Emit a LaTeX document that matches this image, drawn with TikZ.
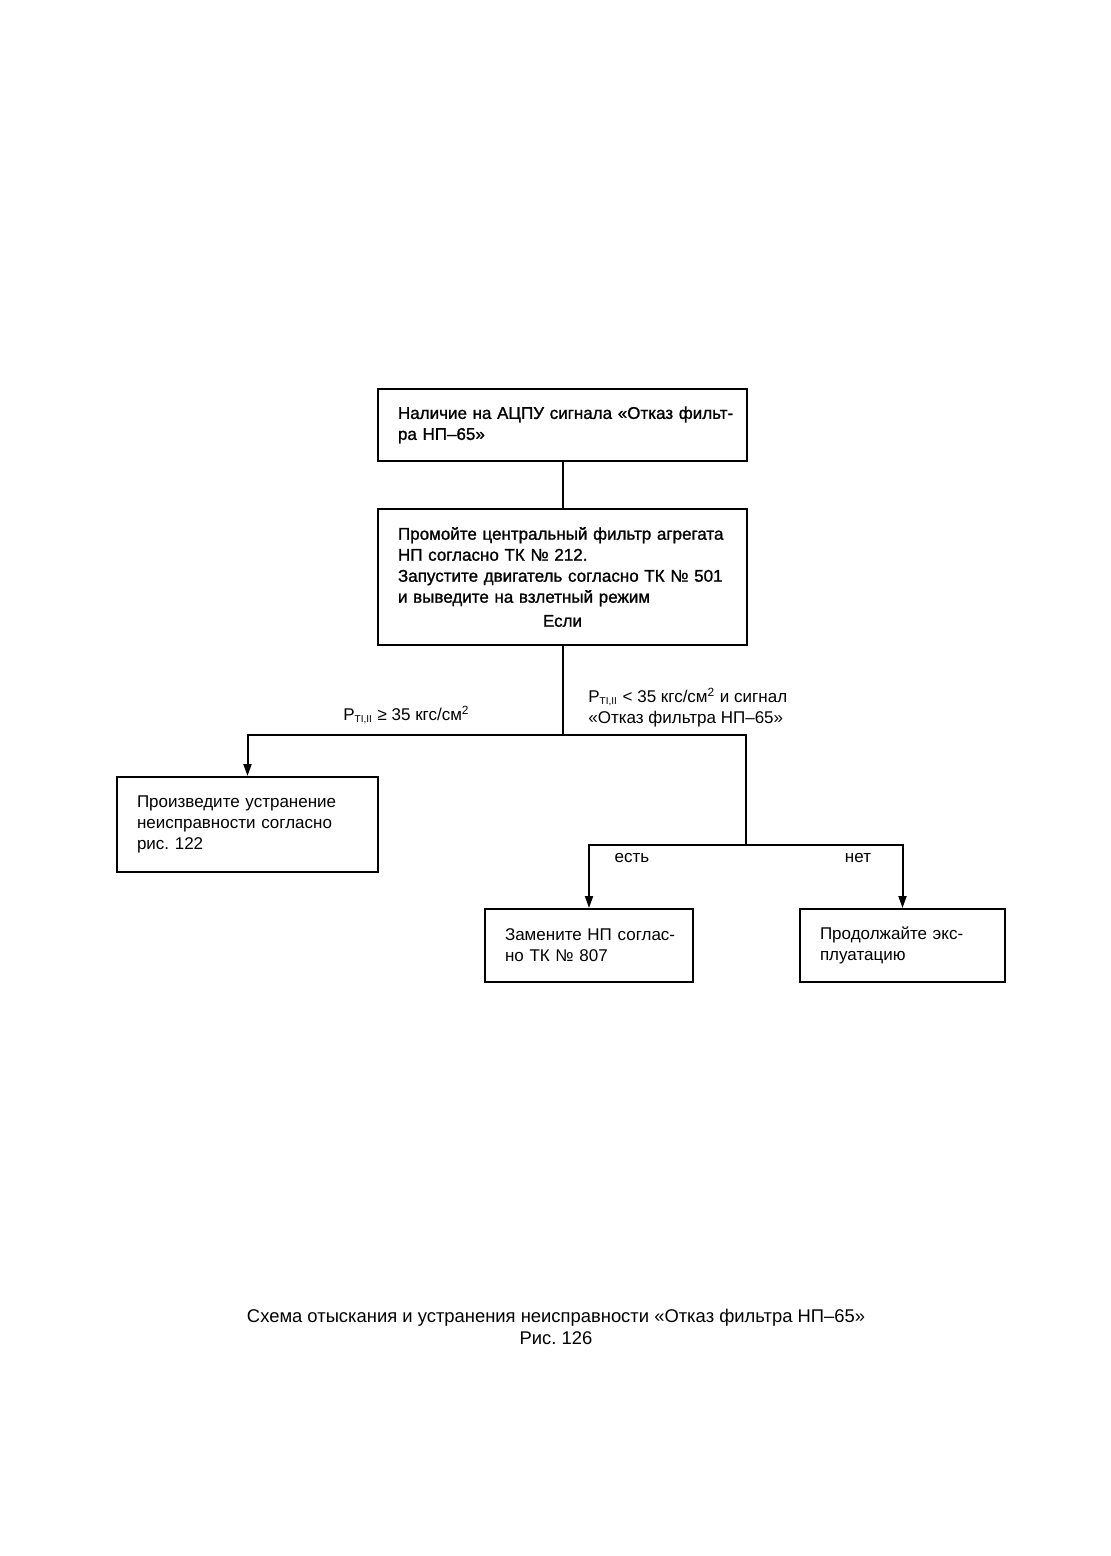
\documentclass[tikz,border=0pt]{standalone}
\usepackage{fontspec}
\setmainfont{Liberation Sans}
\newfontfamily\heavy{Liberation Sans}[FakeBold=1.2]
\usetikzlibrary{arrows.meta}
\newcommand{\ptsub}{P\textsubscript{\tiny TI,II}}
\frenchspacing
\begin{document}
\begin{tikzpicture}[x=0.5pt,y=-0.5pt]
	\useasboundingbox (0,0) rectangle (1111,1556);
	\begin{scope}[every node/.style={draw,line width=1pt,inner xsep=10pt,inner ysep=0pt,align=left,font=\fontsize{8.5}{10.5}\selectfont}]
		\node[minimum width=184.5pt,minimum height=36pt,text width=164.5pt,font=\fontsize{8.5}{10.5}\selectfont\heavy] (A) at (562.5,425) {\mbox{Наличие на АЦПУ сигнала «Отказ фильт-}\\ра НП–65»};
		\node[minimum width=184.5pt,minimum height=68pt,text width=164.5pt,font=\fontsize{8.5}{10.5}\selectfont\heavy] (B) at (562.5,577) {\mbox{Промойте центральный фильтр агрегата}\\НП согласно ТК № 212.\\\mbox{Запустите двигатель согласно ТК № 501}\\и выведите на взлетный режим\\[1.5pt]\makebox[\linewidth]{Если}};
		\node[minimum width=130.5pt,minimum height=47.5pt,text width=110.5pt] (C) at (247.5,824.5) {\mbox{Произведите устранение}\\\mbox{неисправности согласно}\\рис. 122};
		\node[minimum width=104pt,minimum height=36.5pt,text width=84pt] (D) at (589,945.5) {\mbox{Замените НП соглас-}\\но ТК № 807};
		\node[minimum width=102.5pt,minimum height=36.5pt,text width=82.5pt] (E) at (902.5,945.5) {\mbox{Продолжайте экс-}\\плуатацию};
	\end{scope}

	\coordinate (S1) at (562.5,735);
	\coordinate (S2) at (746,845);

	\begin{scope}[line width=1pt,>={Triangle[length=6pt,width=4pt]}]
		\draw (A) -- (B);
		\draw (B.south) -- (S1);
		\draw[->] (S1) -| (C.north);
		\draw (S1) -| (S2);
		\draw[->] (S2) -| (D.north);
		\draw[->] (S2) -| (E.north);
	\end{scope}

	\begin{scope}[every node/.style={inner sep=0pt,font=\fontsize{8.5}{10.5}\selectfont}]
		\node[anchor=base east] (L1) at (470,720) {\ptsub{} ≥ 35 кгс/см\textsuperscript{2}};
		\node[anchor=north west,align=left] (L2) at (588,688) {\ptsub{} < 35 кгс/см\textsuperscript{2} и сигнал\\«Отказ фильтра НП–65»};
		\node[anchor=base] (L3) at (632,862) {есть};
		\node[anchor=base] (L4) at (858,862) {нет};
		\node[anchor=base,align=center,font=\fontsize{9.2}{11}\selectfont] (T) at (556,1344) {Схема отыскания и устранения неисправности «Отказ фильтра НП–65»\\Рис. 126};
	\end{scope}
\end{tikzpicture}
\end{document}
